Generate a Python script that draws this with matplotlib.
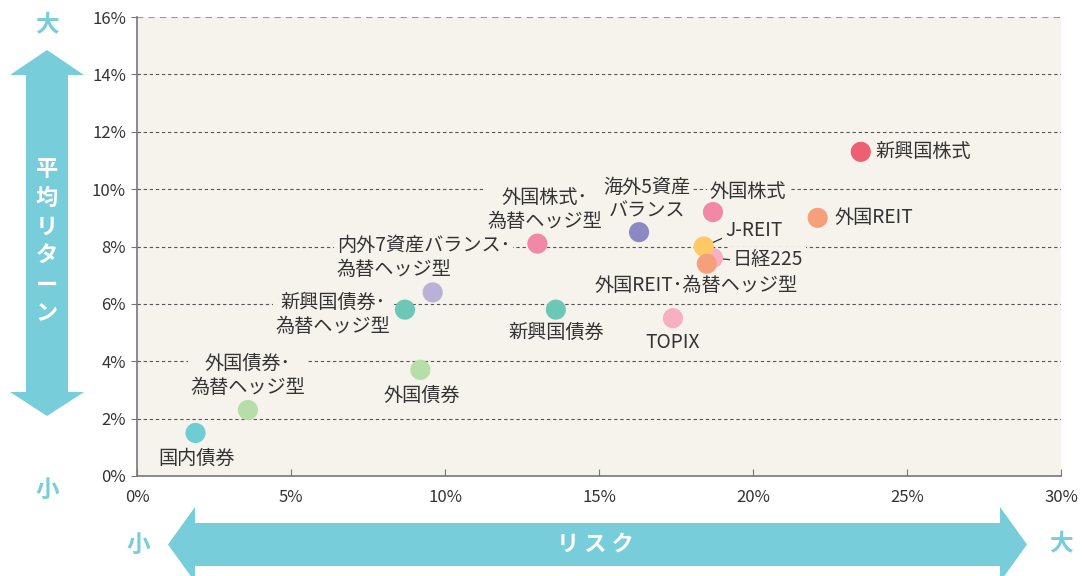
import matplotlib
matplotlib.use("Agg")
from matplotlib import pyplot
from matplotlib.patches import Polygon
from matplotlib.ticker import FuncFormatter

pyplot.rcParams["font.family"] = ["Noto Sans CJK JP", "DejaVu Sans"]

# Data (risk %, average return %)
names = ["日経225", "国内債券", "外国債券･\n為替ヘッジ型", "外国債券", "新興国債券･\n為替ヘッジ型",
         "内外7資産バランス･\n為替ヘッジ型", "新興国債券", "外国株式･\n為替ヘッジ型",
         "海外5資産\nバランス", "外国株式", "J-REIT", "外国REIT･為替ヘッジ型",
         "TOPIX", "外国REIT", "新興国株式"]
risk = [18.7, 1.9, 3.6, 9.2, 8.7, 9.6, 13.6, 13.0, 16.3, 18.7, 18.4, 18.5, 17.4, 22.1, 23.5]
ret = [7.6, 1.5, 2.3, 3.7, 5.8, 6.4, 5.8, 8.1, 8.5, 9.2, 8.0, 7.4, 5.5, 9.0, 11.3]
colors = ["#F6B0C2", "#70CCD3", "#B6DEA9", "#B6DEA9", "#6CC7B7", "#BAB1D9", "#6CC7B7",
          "#F188A6", "#8A89C4", "#F188A6", "#FFC965", "#F6A07B", "#F6B0C2", "#F6A07B", "#EE5F71"]

# label placement: offset in pixels (dx, dy down), alignment, leader line
offsets = [(20, 2), (1, 25), (0, -35), (1, 26), (-72, 5), (-96, -35), (0, 23), (7, -34),
           (8, -33), (35, -21), (50, -16), (-11, 22), (0, 24), (17, 0), (15, 0)]
aligns = ["left", "center", "center", "center", "center", "left", "center", "center",
          "center", "center", "center", "center", "center", "left", "left"]
leaders = [(0, 0.5), None, None, None, None, None, None, None, None, None, (0.05, 0.25),
           None, None, None, None]

W, H = 1082, 576
BG = "#F6F2EC"
ARROW = "#77CDD9"
TXT = "#333333"

figure = pyplot.figure(figsize=(W / 100, H / 100), dpi=100)
axes = figure.add_axes([137 / W, 1 - 476 / H, (1061 - 137) / W, (476 - 17) / H])
axes.set_facecolor(BG)

axes.set_xlim(0, 30)
axes.set_ylim(0, 16)
axes.set_xticks(range(0, 31, 5))
axes.set_yticks(range(0, 17, 2))
axes.xaxis.set_major_formatter(FuncFormatter(lambda v, p: "{}%".format(int(v))))
axes.yaxis.set_major_formatter(FuncFormatter(lambda v, p: "{}%".format(int(v))))

axes.set_axisbelow(True)
axes.grid(axis="y", color="#555555", linestyle=(0, (3, 2.5)), linewidth=0.8)
# top line is a lighter, heavier dash
axes.get_ygridlines()[-1].set_color("#999999")
axes.get_ygridlines()[-1].set_linewidth(1.5)
for s in ["top", "right"]:
    axes.spines[s].set_visible(False)
for s in ["left", "bottom"]:
    axes.spines[s].set_color("#777777")
    axes.spines[s].set_linewidth(1.2)

axes.tick_params(axis="x", direction="in", length=5, color="#777777", pad=9,
                 labelsize=12, labelcolor=TXT)
axes.tick_params(axis="y", direction="out", length=4, color="#777777", pad=4,
                 labelsize=12, labelcolor=TXT)

# points
axes.scatter(risk, ret, s=210, c=colors, edgecolors="none", zorder=4, clip_on=False)

# labels
for name, x, y, (dx, dy), ha, lead in zip(names, risk, ret, offsets, aligns, leaders):
    arrowprops = None
    if lead is not None:
        arrowprops = dict(arrowstyle="-", color=TXT, lw=0.9, shrinkA=0, shrinkB=6,
                          relpos=lead)
    axes.annotate(name, (x, y), xytext=(dx * 0.72, -dy * 0.72), textcoords="offset points",
                  ha=ha, va="center", fontsize=13.8, color=TXT, linespacing=1.2,
                  multialignment=ha,
                  bbox=dict(boxstyle="square,pad=0.15", facecolor=BG, edgecolor="none"),
                  arrowprops=arrowprops, zorder=3)


def fig_pt(px, py):
    return (px / W, 1 - py / H)


# vertical arrow (平均リターン)
cx = 47
v_pts = [(cx, 50), (cx + 37, 75), (cx + 21, 75), (cx + 21, 392), (cx + 37, 392), (cx, 416),
         (cx - 37, 392), (cx - 21, 392), (cx - 21, 75), (cx - 37, 75)]
figure.patches.append(Polygon([fig_pt(*p) for p in v_pts], closed=True, facecolor=ARROW,
                              edgecolor="none", transform=figure.transFigure, figure=figure))
for i, ch in enumerate("平均リターン"):
    figure.text(*fig_pt(cx, 169 + i * 29), ch, ha="center", va="center", color="white",
                fontsize=16, fontweight="bold")
figure.text(*fig_pt(cx, 25), "大", ha="center", va="center", color=ARROW, fontsize=17,
            fontweight="bold")
figure.text(*fig_pt(cx, 490), "小", ha="center", va="center", color=ARROW, fontsize=17,
            fontweight="bold")

# horizontal arrow (リスク)
cy = 544.5
h_pts = [(168, cy), (195, cy - 37.5), (195, cy - 21.5), (1000, cy - 21.5), (1000, cy - 37.5),
         (1027, cy), (1000, cy + 37.5), (1000, cy + 21.5), (195, cy + 21.5), (195, cy + 37.5)]
figure.patches.append(Polygon([fig_pt(*p) for p in h_pts], closed=True, facecolor=ARROW,
                              edgecolor="none", transform=figure.transFigure, figure=figure))
figure.text(*fig_pt(595, cy), "リ ス ク", ha="center", va="center", color="white",
            fontsize=16, fontweight="bold")
figure.text(*fig_pt(138, cy), "小", ha="center", va="center", color=ARROW, fontsize=17,
            fontweight="bold")
figure.text(*fig_pt(1061, cy), "大", ha="center", va="center", color=ARROW, fontsize=17,
            fontweight="bold")

pyplot.savefig("out.png", dpi=100, facecolor="white")
